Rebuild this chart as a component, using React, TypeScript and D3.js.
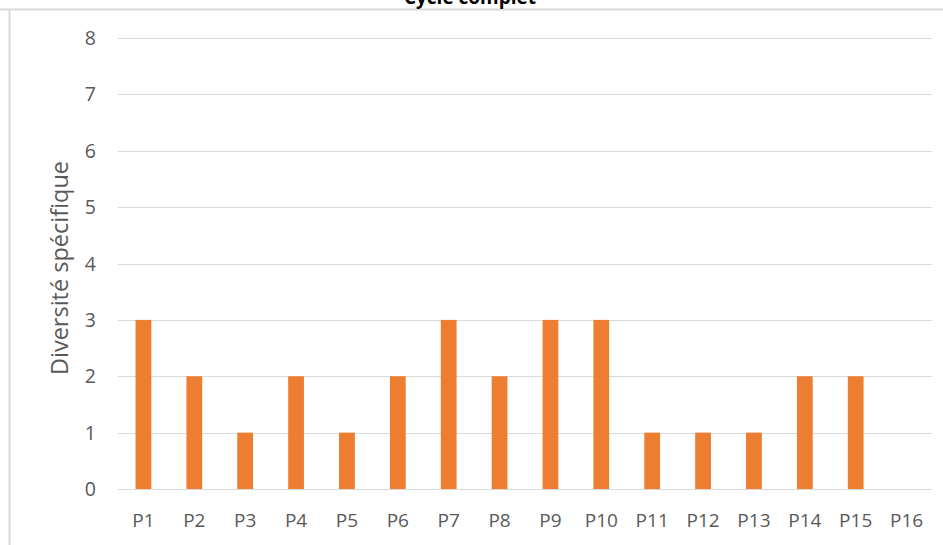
import React from "react";
import * as d3 from "d3";

const categories = ["P1","P2","P3","P4","P5","P6","P7","P8","P9","P10","P11","P12","P13","P14","P15","P16"];
const values = [3,2,1,2,1,2,3,2,3,3,1,1,1,2,2,0];
const yTicks = [0,1,2,3,4,5,6,7,8];
const title = "Cycle complet";
const yLabel = "Diversité spécifique";

export default function App() {
  const W = 943, H = 545;
  const left = 118, right = 932, top = 38, bottom = 489;
  const x = d3.scaleBand<string>().domain(categories).range([left, right]).paddingInner(0).paddingOuter(0);
  const y = d3.scaleLinear().domain([0, 8]).range([bottom, top]);
  const barW = x.bandwidth() * 0.31;
  const font = "Open Sans, Calibri, sans-serif";
  return (
    <svg width={W} height={H} style={{ position: "absolute", left: 0, top: 0, background: "#fff" }} fontFamily={font}>
      <line x1={0} x2={W} y1={9.5} y2={9.5} stroke="#d9d9d9" strokeWidth={2} />
      <line x1={9.5} x2={9.5} y1={9} y2={H} stroke="#d9d9d9" strokeWidth={2} />
      <text x={470} y={4} textAnchor="middle" fontSize={19} fontWeight="bold" fill="#000">{title}</text>
      {yTicks.map(t => (
        <g key={t}>
          <line x1={left} x2={right} y1={Math.round(y(t)) + 0.5} y2={Math.round(y(t)) + 0.5} stroke="#d9d9d9" strokeWidth={1} />
          <text x={96} y={y(t)} dy="0.36em" textAnchor="end" fontSize={19.5} fill="#595959">{t}</text>
        </g>
      ))}
      {categories.map((c, i) => (
        <rect key={c} x={(x(c) as number) + (x.bandwidth() - barW) / 2} y={y(values[i])} width={barW} height={y(0) - y(values[i])} fill="#ed7d31" />
      ))}
      {categories.map(c => (
        <text key={c} x={(x(c) as number) + x.bandwidth() / 2} y={527} textAnchor="middle" fontSize={19} fill="#595959">{c}</text>
      ))}
      <text transform={`translate(60,268) rotate(-90)`} textAnchor="middle" dy="0.35em" fontSize={23.5} fill="#595959">{yLabel}</text>
    </svg>
  );
}
